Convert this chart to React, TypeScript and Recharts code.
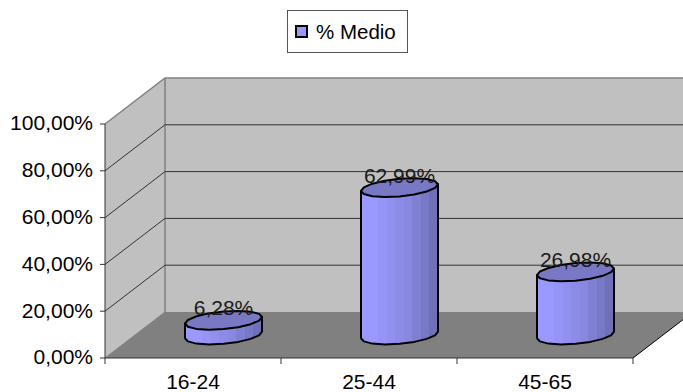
import { Bar, BarChart, LabelList, Legend, XAxis, YAxis, usePlotArea } from "recharts";

const categories = ["16-24", "25-44", "45-65"];
const medio = [6.28, 62.99, 26.98];
const yTicks = [0, 20, 40, 60, 80, 100];
const seriesName = "% Medio";

const bandColors = ["#9999ff", "#9999ff", "#9595f8", "#9090ee", "#8c8ce8", "#8888e0", "#8080d2", "#7878c6", "#7070b8"];

const rows = categories.map((name, i) => ({ name, medio: medio[i] }));

const FONT = "'Liberation Sans', Arial, sans-serif";
const DEPTH_X = 60;
const DEPTH_Y = 46;

const percent = (v: number) => `${v.toFixed(2).replace(".", ",")}%`;

// back wall, side wall, floor and the gridlines that fold across them
function Walls() {
  const plot = usePlotArea();
  if (!plot) return null;
  const { x, y, width, height } = plot;
  const bottom = y + height;
  const right = x + width;
  const lines = yTicks.slice(1, -1).map((t) => bottom - (height * t) / 100);
  return (
    <g>
      <polygon
        points={`${x + DEPTH_X},${y - DEPTH_Y} ${right + DEPTH_X},${y - DEPTH_Y} ${right + DEPTH_X},${bottom - DEPTH_Y} ${x + DEPTH_X},${bottom - DEPTH_Y}`}
        fill="#c0c0c0"
      />
      <polygon
        points={`${x},${y} ${x + DEPTH_X},${y - DEPTH_Y} ${x + DEPTH_X},${bottom - DEPTH_Y} ${x},${bottom}`}
        fill="#c0c0c0"
      />
      <polygon
        points={`${x},${bottom} ${right},${bottom} ${right + DEPTH_X},${bottom - DEPTH_Y} ${x + DEPTH_X},${bottom - DEPTH_Y}`}
        fill="#808080"
      />
      <path
        d={`M${x},${y} L${x + DEPTH_X},${y - DEPTH_Y} L${right + DEPTH_X},${y - DEPTH_Y} M${x + DEPTH_X},${y - DEPTH_Y} L${x + DEPTH_X},${bottom - DEPTH_Y}`}
        fill="none"
        stroke="#808080"
        strokeWidth={1.5}
      />
      {lines.map((ly) => (
        <path
          key={ly}
          d={`M${x},${ly} L${x + DEPTH_X},${ly - DEPTH_Y} L${right + DEPTH_X},${ly - DEPTH_Y}`}
          fill="none"
          stroke="#333333"
          strokeWidth={1}
        />
      ))}
      <path d={`M${x},${bottom} L${x + DEPTH_X},${bottom - DEPTH_Y}`} stroke="#808080" />
      <path d={`M${right},${bottom} L${right + DEPTH_X},${bottom - DEPTH_Y}`} stroke="#000000" />
      {categories.concat("").map((_, i) => {
        const tx = x + (width * i) / categories.length;
        return <line key={i} x1={tx} x2={tx} y1={bottom} y2={bottom + 6} stroke="#333333" />;
      })}
    </g>
  );
}

// ellipse outline leaning up to the right, walked in coarse steps
function rim(cx: number, cy: number, rx: number, from: number, to: number) {
  const steps = 8;
  const pts: string[] = [];
  for (let i = 0; i <= steps; i++) {
    const t = from + ((to - from) * i) / steps;
    pts.push(`${(cx + rx * Math.cos(t)).toFixed(1)},${(cy - 3.3 * Math.cos(t) + 8.8 * Math.sin(t)).toFixed(1)}`);
  }
  return pts;
}

function Cylinder({ x, y, width, height }: any) {
  const rx = width / 2;
  const cx = x + rx + DEPTH_X / 2;
  const top = y - DEPTH_Y / 2;
  const base = top + height;
  const front = rim(cx, base, rx, 0, Math.PI);
  const body = [`${cx + rx},${top - 3.3}`, ...front, `${cx - rx},${top + 3.3}`];
  const lid = [...rim(cx, top, rx, 0, Math.PI), ...rim(cx, top, rx, Math.PI, 2 * Math.PI)];
  return (
    <g>
      <polygon points={body.join(" ")} fill="url(#cylinderSide)" stroke="#000000" strokeWidth={2} strokeLinejoin="round" />
      <polygon points={lid.join(" ")} fill="#7878c4" stroke="#000000" strokeWidth={2} strokeLinejoin="round" />
    </g>
  );
}

function ValueLabel({ x, y, width, value }: any) {
  return (
    <text
      x={x + width / 2 + DEPTH_X / 2}
      y={y - DEPTH_Y / 2 - 5}
      textAnchor="middle"
      fontFamily={FONT}
      fontSize={21}
      fill="#1a1a1a"
    >
      {percent(value)}
    </text>
  );
}

function LegendBox() {
  return (
    <div
      style={{
        boxSizing: "border-box",
        width: 121,
        height: 43,
        border: "1.5px solid #555555",
        background: "#ffffff",
        display: "flex",
        alignItems: "center",
        fontFamily: FONT,
        fontSize: 20.5,
        color: "#000000",
      }}
    >
      <span
        style={{
          boxSizing: "border-box",
          width: 13,
          height: 13,
          marginLeft: 7,
          marginRight: 8,
          background: "#9999ff",
          border: "2px solid #000000",
        }}
      />
      {seriesName}
    </div>
  );
}

export default function App() {
  return (
    <div style={{ position: "absolute", left: 0, top: 0, width: 683, height: 392, overflow: "hidden" }}>
      <BarChart
        width={683}
        height={392}
        data={rows}
        barSize={77}
        margin={{ top: 81, right: 50, left: 0, bottom: 4 }}
      >
        <defs>
          <linearGradient id="cylinderSide" x1="0" y1="0" x2="1" y2="0">
            {bandColors.flatMap((c, i) => [
              <stop key={`${i}a`} offset={i / bandColors.length} stopColor={c} />,
              <stop key={`${i}b`} offset={(i + 1) / bandColors.length} stopColor={c} />,
            ])}
          </linearGradient>
        </defs>
        <Walls />
        <XAxis
          dataKey="name"
          stroke="#333333"
          tickLine={false}
          tickMargin={10}
          tick={{ fontFamily: FONT, fontSize: 21, fill: "#000000" }}
        />
        <YAxis
          width={105}
          domain={[0, 100]}
          ticks={yTicks}
          interval={0}
          stroke="#333333"
          tickSize={5}
          tickMargin={7}
          tickFormatter={percent}
          tick={{ fontFamily: FONT, fontSize: 21, fill: "#000000", dy: -1 }}
        />
        <Legend
          verticalAlign="top"
          align="center"
          wrapperStyle={{ left: 287, top: 10, width: 121 }}
          content={() => <LegendBox />}
        />
        <Bar dataKey="medio" name={seriesName} shape={<Cylinder />} isAnimationActive={false}>
          <LabelList dataKey="medio" content={<ValueLabel />} />
        </Bar>
      </BarChart>
    </div>
  );
}
